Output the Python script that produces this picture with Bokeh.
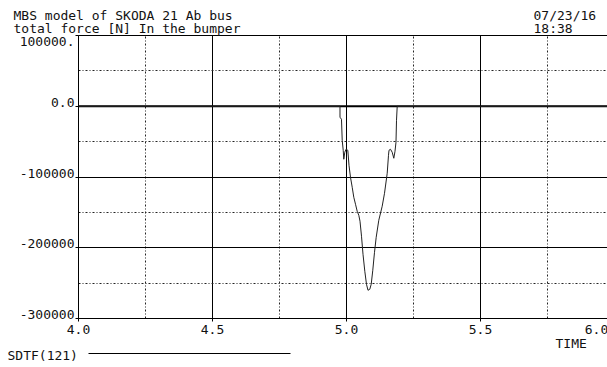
from bokeh.plotting import figure
from bokeh.models import Range1d, FixedTicker, Grid, LinearAxis
from bokeh.core.properties import value
from bokeh.embed import file_html
from bokeh.resources import INLINE

# ---- data ----
TIME = [4.0, 4.9757, 4.9757, 4.9813, 4.9840, 4.9877, 4.9899, 4.9937, 4.9981, 5.0049,
        5.0093, 5.0149, 5.0213, 5.0272, 5.0336, 5.0399, 5.0459, 5.0504, 5.0560, 5.0616,
        5.0683, 5.0746, 5.0802, 5.0869, 5.0922, 5.0981, 5.1045, 5.1108, 5.1205, 5.1332,
        5.1418, 5.1519, 5.1567, 5.1586, 5.1642, 5.1705, 5.1765, 5.1810, 5.1847, 5.1866,
        5.1892, 6.0]
FORCE = [0, 0, -15500, -18400, -48100, -62200, -74900, -65000, -60800, -62200,
         -83400, -100400, -114500, -128600, -138500, -148400, -154100, -162500, -183700, -209200,
         -233200, -251600, -260100, -258700, -251600, -231800, -206400, -185200, -161100, -141300,
         -123000, -94700, -69300, -62200, -60800, -65000, -73500, -63600, -50900, -19800,
         0, 0]

X_TICKS = [4.0, 4.5, 5.0, 5.5, 6.0]
X_LABELS = ["4.0", "4.5", "5.0", "5.5", "6.0"]
X_MINOR = [4.25, 4.75, 5.25, 5.75]
Y_TICKS = [100000, 0, -100000, -200000, -300000]
Y_LABELS = ["100000.", "0.0", "-100000", "-200000", "-300000"]
Y_MINOR = [50000, -50000, -150000, -250000]

TITLE1 = "MBS model of SKODA 21 Ab bus"
TITLE2 = "total force [N] In the bumper"
DATE = "07/23/16"
CLOCK = "18:38"
XLABEL = "TIME"
LEGEND = "SDTF(121)"

# ---- layout (page pixels) ----
W, H = 607, 367
PL, PT, PB = 78, 35, 318        # plot-area left / top / bottom in page px
PX_PER_X = 268.0
X0, X1 = 4.0, 6.0
Y_TOP, Y_BOT = 100000, -300000
PX_PER_Y = (PB - PT) / (Y_TOP - Y_BOT)

def px2x(px):
    return X0 + (px - PL) / PX_PER_X

def py2y(py):
    return Y_TOP - (py - PT) / PX_PER_Y

FONT = "DejaVu Sans Mono"
FS = "13px"
TXT = "#111111"

p = figure(width=W, height=H, output_backend="svg", toolbar_location=None,
           x_range=Range1d(px2x(0), px2x(W)), y_range=Range1d(py2y(H), py2y(0)),
           min_border=0, x_axis_type=None, y_axis_type=None)
p.outline_line_color = None
p.background_fill_color = "white"
p.border_fill_color = "white"

xaxis = LinearAxis(ticker=FixedTicker(ticks=X_TICKS), fixed_location=Y_BOT,
                   bounds=(X0, X1), major_label_text_color=None,
                   axis_line_color="black", major_tick_line_color="black",
                   major_tick_out=3, major_tick_in=0, minor_tick_line_color=None)
yaxis = LinearAxis(ticker=FixedTicker(ticks=Y_TICKS), fixed_location=X0,
                   bounds=(Y_BOT, Y_TOP), major_label_text_color=None,
                   axis_line_color="black", major_tick_line_color="black",
                   major_tick_out=3, major_tick_in=0, minor_tick_line_color=None)
p.add_layout(xaxis, "below")
p.add_layout(yaxis, "left")

xg = Grid(dimension=0, ticker=FixedTicker(ticks=X_TICKS, minor_ticks=X_MINOR),
          cross_bounds=(Y_BOT, Y_TOP),
          grid_line_color="black", grid_line_width=1,
          minor_grid_line_color="#222222", minor_grid_line_dash="2 2 1 2")
yg = Grid(dimension=1, ticker=FixedTicker(ticks=Y_TICKS, minor_ticks=Y_MINOR),
          cross_bounds=(X0, X1),
          grid_line_color="black", grid_line_width=1,
          minor_grid_line_color="#222222", minor_grid_line_dash="2 2 1 2")
p.add_layout(xg)
p.add_layout(yg)

# heavier zero line
p.segment(x0=[X0], x1=[X1], y0=[0], y1=[0], line_color="black", line_width=2)

p.line(TIME, FORCE, line_color="#222222", line_width=1)

def txt(xs, ys, texts, align="left", x_offset=0, y_offset=0):
    p.text(x=xs, y=ys, text=texts, text_align=align, text_baseline="middle",
           x_offset=x_offset, y_offset=y_offset, text_font=value(FONT),
           text_font_size=FS, text_color=TXT)

# text positions are the vertical centres of the lines
txt([px2x(13), px2x(13)], [py2y(15), py2y(27.5)], [TITLE1, TITLE2])
txt([px2x(533), px2x(533)], [py2y(15), py2y(27.5)], [DATE, CLOCK])
# top label sits just below its tick, the others just above theirs
txt([X0], Y_TICKS[:1], Y_LABELS[:1], align="right", x_offset=-4, y_offset=6)
txt([X0] * (len(Y_TICKS) - 1), Y_TICKS[1:], Y_LABELS[1:], align="right",
    x_offset=-4, y_offset=-4)
txt(X_TICKS[:-1], [py2y(329)] * (len(X_TICKS) - 1), X_LABELS[:-1], align="center")
txt(X_TICKS[-1:], [py2y(329)], X_LABELS[-1:], align="center", x_offset=-18)
txt([px2x(555)], [py2y(343)], [XLABEL])
txt([px2x(7)], [py2y(355)], [LEGEND])
p.segment(x0=[px2x(88)], x1=[px2x(290)], y0=[py2y(353)], y1=[py2y(353)],
          line_color="black", line_width=1)

open("out.html", "w").write(file_html(p, INLINE))
